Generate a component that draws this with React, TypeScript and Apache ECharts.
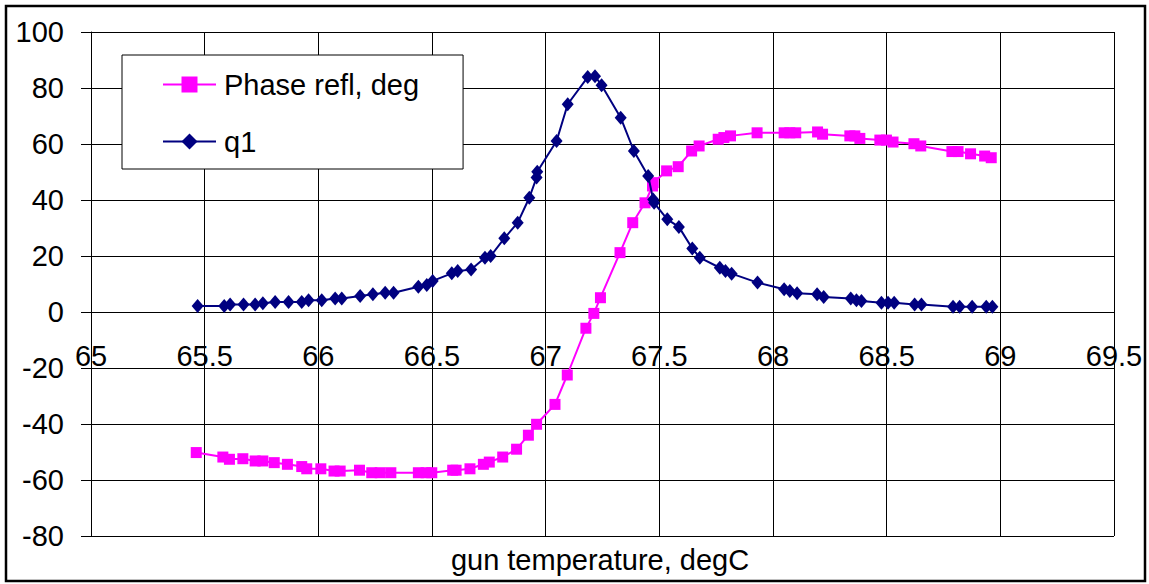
import React, { useEffect, useRef } from "react";
import * as echarts from "echarts";

const tempPhase = [
  65.463, 65.58, 65.609, 65.668, 65.722, 65.756, 65.806, 65.864, 65.927, 65.949,
  66.011, 66.069, 66.096, 66.181, 66.235, 66.272, 66.319, 66.44, 66.474, 66.499,
  66.591, 66.606, 66.667, 66.726, 66.752, 66.811, 66.872, 66.924, 66.96, 67.041,
  67.095, 67.177, 67.212, 67.241, 67.327, 67.383, 67.437, 67.47, 67.473, 67.532,
  67.583, 67.642, 67.675, 67.759, 67.784, 67.813, 67.93, 68.049, 68.074, 68.1,
  68.196, 68.218, 68.338, 68.36, 68.382, 68.47, 68.499, 68.528, 68.62, 68.65,
  68.787, 68.814, 68.869, 68.931, 68.96,
];
const phaseRefl = [
  -50.2, -51.8, -52.6, -52.4, -53.2, -53.2, -53.8, -54.4, -55.2, -56.0,
  -56.0, -56.8, -56.8, -56.5, -57.4, -57.4, -57.4, -57.4, -57.4, -57.4,
  -56.5, -56.5, -56.0, -54.4, -53.6, -51.8, -49.0, -44.0, -40.1, -33.0,
  -22.5, -5.8, -0.5, 5.1, 21.2, 31.9, 39.0, 45.0, 46.2, 50.4,
  51.9, 57.5, 59.3, 61.7, 62.3, 62.9, 64.0, 64.0, 64.0, 64.0,
  64.3, 63.5, 62.9, 62.9, 62.0, 61.4, 61.4, 60.7, 60.1, 59.3,
  57.3, 57.3, 56.5, 55.7, 55.1,
];

const tempQ1 = [
  65.469, 65.586, 65.612, 65.671, 65.722, 65.756, 65.81, 65.869, 65.927, 65.957,
  66.015, 66.074, 66.103, 66.184, 66.24, 66.294, 66.331, 66.44, 66.477, 66.503,
  66.587, 66.613, 66.672, 66.733, 66.758, 66.818, 66.877, 66.928, 66.96, 66.963,
  67.048, 67.097, 67.185, 67.217, 67.246, 67.33, 67.388, 67.451, 67.473, 67.477,
  67.535, 67.586, 67.645, 67.678, 67.766, 67.791, 67.818, 67.932, 68.049, 68.074,
  68.106, 68.194, 68.223, 68.342, 68.367, 68.389, 68.477, 68.506, 68.533, 68.623,
  68.653, 68.792, 68.821, 68.876, 68.938, 68.965,
];
const q1 = [
  2.1, 2.1, 2.7, 2.7, 2.7, 3.1, 3.6, 3.6, 3.6, 4.2,
  4.2, 4.8, 4.8, 5.7, 6.3, 6.9, 6.9, 9.0, 9.6, 11.1,
  13.8, 14.6, 15.2, 19.4, 20.0, 26.3, 31.9, 40.8, 48.0, 50.1,
  61.1, 74.2, 83.9, 84.2, 81.0, 69.4, 57.5, 48.6, 40.2, 39.0,
  33.1, 30.4, 22.7, 19.4, 15.8, 14.6, 13.7, 10.5, 8.1, 7.5,
  6.7, 6.3, 5.4, 4.8, 4.2, 3.9, 3.3, 3.3, 3.3, 2.7,
  2.7, 1.9, 1.9, 1.9, 1.9, 1.9,
];

const seriesNames = ["Phase refl, deg", "q1"];
const xTitle = "gun temperature, degC";

const FONT = "'Liberation Sans', Arial, sans-serif";

export default function App() {
  const ref = useRef<HTMLDivElement>(null);

  useEffect(() => {
    if (!ref.current) return;
    const chart = echarts.init(ref.current, undefined, { renderer: "svg" });
    const gridTop = 32;
    const gridBottom = 48;
    const plotH = 584 - gridTop - gridBottom;
    const yMin = -80;
    const yMax = 100;
    const zeroOffset = (plotH * (0 - yMin)) / (yMax - yMin);
    chart.setOption({
      animation: false,
      backgroundColor: "#fff",
      textStyle: { fontFamily: FONT },
      grid: { left: 91, right: 35, top: gridTop, bottom: gridBottom, containLabel: false },
      legend: {
        orient: "vertical",
        left: 122,
        top: 55,
        padding: [15, 44, 13, 40],
        itemGap: 28,
        itemWidth: 53,
        itemHeight: 20,
        backgroundColor: "#fff",
        borderColor: "#000",
        borderWidth: 1,
        borderRadius: 0,
        textStyle: { fontSize: 29, fontFamily: FONT, color: "#000", padding: [0, 0, 0, 3] },
        data: seriesNames,
      },
      xAxis: {
        type: "value",
        min: 65,
        max: 69.5,
        interval: 0.5,
        position: "bottom",
        offset: -zeroOffset,
        axisLine: { show: true, onZero: false, lineStyle: { color: "#000", width: 1 } },
        axisTick: { show: true, length: 8, inside: false, lineStyle: { color: "#000" } },
        axisLabel: { fontSize: 29, color: "#000", margin: 29, fontFamily: FONT },
        splitLine: { show: true, lineStyle: { color: "#000", width: 1 } },
      },
      yAxis: {
        type: "value",
        min: yMin,
        max: yMax,
        interval: 20,
        axisLine: { show: true, lineStyle: { color: "#000", width: 1 } },
        axisTick: { show: true, length: 10, inside: false, lineStyle: { color: "#000" } },
        axisLabel: { fontSize: 29, color: "#000", margin: 27, fontFamily: FONT },
        splitLine: { show: true, lineStyle: { color: "#000", width: 1 } },
      },
      graphic: [
        {
          type: "rect",
          shape: { x: 6, y: 6, width: 1139, height: 575 },
          style: { fill: "none", stroke: "#000", lineWidth: 2.5 },
          silent: true,
          z: 100,
        },
        {
          type: "text",
          x: 600,
          y: 560,
          style: {
            text: xTitle,
            fontSize: 29,
            fontFamily: FONT,
            fill: "#000",
            align: "center",
            verticalAlign: "middle",
          },
        },
      ],
      series: [
        {
          name: seriesNames[0],
          type: "line",
          data: tempPhase.map((t, i) => [t, phaseRefl[i]]),
          symbol: "rect",
          symbolSize: 11,
          showAllSymbol: true,
          lineStyle: { color: "#FF00FF", width: 2 },
          itemStyle: { color: "#FF00FF" },
          z: 3,
        },
        {
          name: seriesNames[1],
          type: "line",
          data: tempQ1.map((t, i) => [t, q1[i]]),
          symbol: "diamond",
          symbolSize: [12, 14],
          showAllSymbol: true,
          lineStyle: { color: "#000080", width: 2 },
          itemStyle: { color: "#000080" },
          z: 4,
        },
      ],
    });
    return () => chart.dispose();
  }, []);

  return (
    <div
      ref={ref}
      style={{ position: "absolute", left: 0, top: 0, width: 1149, height: 584 }}
    />
  );
}
